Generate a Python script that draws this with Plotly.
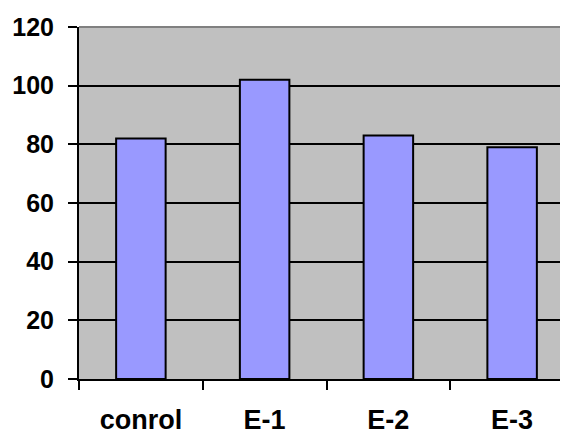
import plotly.graph_objects as go

categories = ["conrol", "E-1", "E-2", "E-3"]
values = [82, 102, 83, 79]
y_ticks = [0, 20, 40, 60, 80, 100, 120]

fig = go.Figure()
fig.add_trace(go.Bar(
    x=categories, y=values,
    marker=dict(color="#9999FF", line=dict(color="black", width=2)),
    width=0.4,
))

family = "Liberation Sans, Arial, sans-serif"

# page body has an 8px default margin; margins below compensate for it
fig.update_layout(
    width=568, height=432,
    margin=dict(l=71, r=2, t=19, b=61),
    paper_bgcolor="white",
    plot_bgcolor="#C0C0C0",
    showlegend=False,
    bargap=0.6,
    xaxis=dict(
        type="category",
        range=[-0.5, 3.5],
        showgrid=False,
        showline=True, linecolor="black", linewidth=2,
        ticks="outside", tickson="boundaries", ticklen=9, tickwidth=2, tickcolor="black",
        tickfont=dict(family=family, size=27, color="black", weight="bold"),
        ticklabelstandoff=16,
        zeroline=False,
    ),
    yaxis=dict(
        range=[0, 120],
        tickvals=y_ticks,
        showgrid=True, gridcolor="black", gridwidth=1.5,
        showline=True, linecolor="black", linewidth=2,
        ticks="outside", ticklen=9, tickwidth=2, tickcolor="black",
        tickfont=dict(family=family, size=25, color="black", weight="bold"),
        ticklabelstandoff=9,
        zeroline=False,
    ),
    shapes=[dict(type="line", xref="paper", yref="paper", x0=0, x1=1, y0=1, y1=1,
                 line=dict(color="#808080", width=2))],
)

fig.write_html("out.html")
